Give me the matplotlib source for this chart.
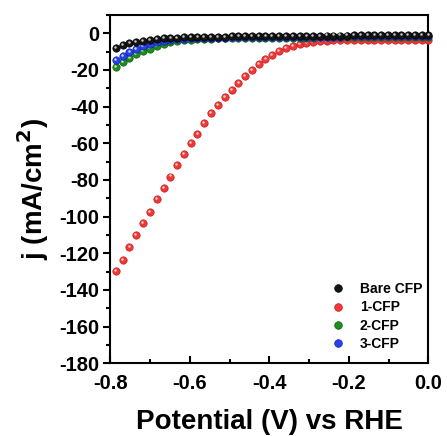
import matplotlib
matplotlib.use('Agg')
import matplotlib.pyplot as plt
from matplotlib.transforms import offset_copy
from matplotlib.lines import Line2D
from matplotlib.ticker import MultipleLocator

plt.rcParams['font.family'] = ['Liberation Sans', 'DejaVu Sans']
plt.rcParams['font.weight'] = 'bold'
plt.rcParams['axes.unicode_minus'] = False

# potential (V vs RHE)
potential = [-0.786, -0.769, -0.752, -0.735, -0.718, -0.701, -0.683, -0.666,
             -0.649, -0.632, -0.615, -0.598, -0.581, -0.564, -0.547, -0.530,
             -0.512, -0.495, -0.478, -0.461, -0.444, -0.427, -0.410, -0.393,
             -0.376, -0.359, -0.341, -0.324, -0.307, -0.290, -0.273, -0.256,
             -0.239, -0.222, -0.205, -0.188, -0.170, -0.153, -0.136, -0.119,
             -0.102, -0.085, -0.068, -0.051, -0.034, -0.017, 0.000]

bare_cfp = [-8.2, -6.4, -5.5, -4.7, -4.0, -3.5, -3.1, -2.8, -2.6, -2.4, -2.2, -2.1,
            -2.0, -1.9, -1.9, -1.8, -1.8, -1.7, -1.7, -1.6, -1.6, -1.5, -1.5, -1.5,
            -1.4, -1.4, -1.4, -1.3, -1.3, -1.3, -1.3, -1.2, -1.2, -1.2, -1.2, -1.1,
            -1.1, -1.1, -1.1, -1.1, -1.0, -1.0, -1.0, -1.0, -1.0, -1.0, -1.0]

cfp_1 = [-129.5, -123.7, -116.6, -110.0, -103.3, -97.5, -90.2, -84.2, -78.1, -71.7,
         -65.8, -60.0, -54.8, -49.1, -43.6, -39.1, -34.6, -30.8, -26.9, -23.1,
         -19.8, -16.9, -14.2, -11.8, -9.8, -8.0, -6.8, -5.8, -5.1, -4.6,
         -4.3, -4.0, -3.9, -3.8, -3.8, -3.7, -3.7, -3.7, -3.6, -3.6,
         -3.6, -3.6, -3.6, -3.6, -3.6, -3.6, -3.6]

cfp_2 = [-18.2, -15.5, -13.3, -11.5, -9.7, -8.3, -6.8, -5.7, -4.7, -4.1, -3.7, -3.4,
         -3.2, -3.0, -2.9, -2.8, -2.7, -2.7, -2.6, -2.6, -2.5, -2.5, -2.5, -2.4,
         -2.4, -2.4, -2.3, -2.3, -2.3, -2.3, -2.2, -2.2, -2.2, -2.2, -2.2, -2.1,
         -2.1, -2.1, -2.1, -2.1, -2.0, -2.0, -2.0, -2.0, -2.0, -2.0, -2.0]

cfp_3 = [-14.6, -12.2, -10.2, -8.6, -6.9, -5.6, -4.7, -4.0, -3.5, -3.1, -2.9, -2.7,
         -2.6, -2.5, -2.4, -2.3, -2.3, -2.2, -2.2, -2.1, -2.1, -2.1, -2.0, -2.0,
         -2.0, -1.9, -1.9, -1.9, -1.9, -1.8, -1.8, -1.8, -1.8, -1.8, -1.7, -1.7,
         -1.7, -1.7, -1.7, -1.6, -1.6, -1.6, -1.6, -1.6, -1.6, -1.6, -1.6]

labels = ['Bare CFP', '1-CFP', '2-CFP', '3-CFP']
colors = ['#141414', '#f03838', '#1e8e1e', '#2642ea']
edges = ['#000000', '#c81a1a', '#0e5e0e', '#1020b0']

fig = plt.figure(figsize=(4.47, 4.36), dpi=100)
ax = fig.add_axes([0.247, 0.1667, 0.7116, 0.7989])

shine = offset_copy(ax.transData, fig=fig, x=-0.9, y=1.1, units='dots')

# draw order: red under, black on top
series = [(cfp_1, 1), (cfp_2, 2), (cfp_3, 3), (bare_cfp, 0)]
for z, (vals, i) in enumerate(series):
    ax.plot(potential, vals, 'o', ms=5.3, mfc=colors[i], mec=edges[i], mew=0.5,
            zorder=3 + 2 * z, clip_on=False)
    ax.plot(potential, vals, 'o', ms=1.8, mfc='white', mec='none', alpha=0.75,
            transform=shine, zorder=4 + 2 * z, clip_on=False)

ax.set_xlim(-0.8, 0.0)
ax.set_ylim(-180, 10)
ax.xaxis.set_minor_locator(MultipleLocator(0.1))
ax.yaxis.set_major_locator(MultipleLocator(20))
ax.yaxis.set_minor_locator(MultipleLocator(10))
ax.set_xticks([-0.8, -0.6, -0.4, -0.2, 0.0])
ax.set_xticklabels(['-0.8', '-0.6', '-0.4', '-0.2', '0.0'])

ax.tick_params(axis='x', which='both', direction='in', labelsize=14.5, width=1.5)
ax.tick_params(axis='y', which='both', direction='out', labelsize=14.5, width=1.5)
ax.tick_params(which='major', length=5)
ax.tick_params(which='minor', length=3)
ax.tick_params(axis='x', pad=8)
ax.tick_params(axis='y', pad=3)
for s in ax.spines.values():
    s.set_linewidth(1.5)

ax.set_xlabel('Potential (V) vs RHE', fontsize=20, fontweight='bold', labelpad=11)
ax.set_ylabel('j (mA/cm$^\\mathbf{2}$)', fontsize=20, fontweight='bold', labelpad=6)

handles = [Line2D([], [], ls='none', marker='o', ms=5.5, mfc=colors[i], mec=edges[i], mew=0.5)
           for i in range(4)]
ax.legend(handles, labels, loc='lower right', frameon=False,
          prop={'weight': 'bold', 'size': 10}, handletextpad=0.6,
          labelspacing=0.3, bbox_to_anchor=(1.02, 0.0))

fig.savefig('out.png', dpi=100)
